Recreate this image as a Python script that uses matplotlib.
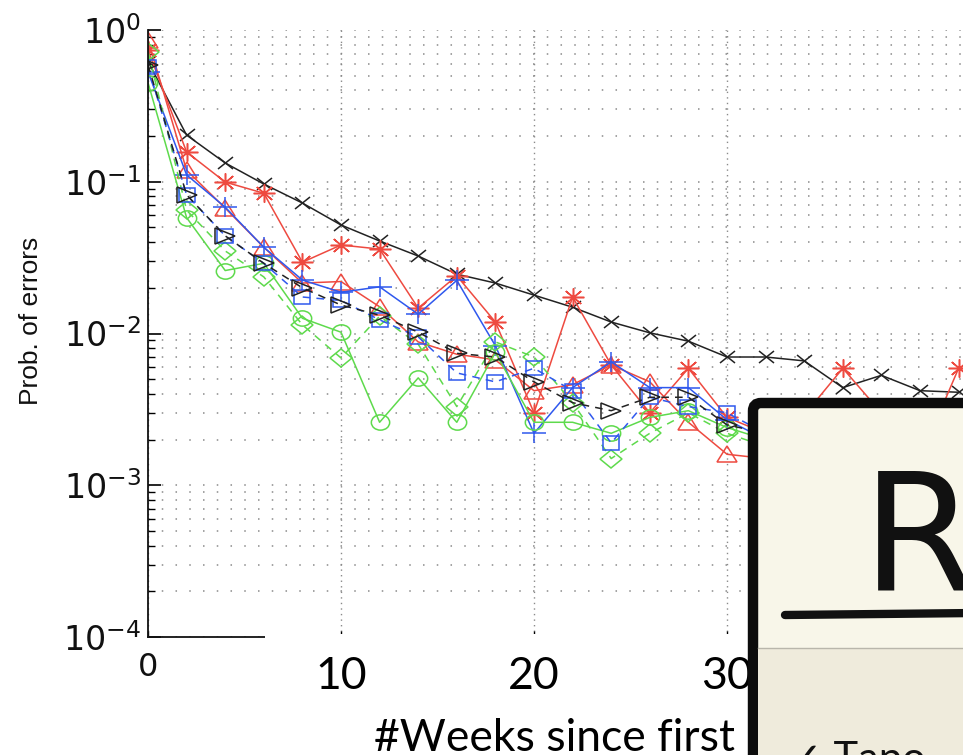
import matplotlib
matplotlib.use("Agg")
import matplotlib.pyplot as plt
from matplotlib.markers import MarkerStyle
from matplotlib.transforms import Affine2D, IdentityTransform
from matplotlib.patches import Rectangle, FancyBboxPatch
from matplotlib.lines import Line2D

plt.rcParams['mathtext.default'] = 'regular'

# ---------------- data ----------------
weeks_long = [0, 2, 4, 6, 8, 10, 12, 14, 16, 18, 20, 22, 24, 26, 28, 30, 32, 34, 36, 38, 40, 42]
weeks_short = [0, 2, 4, 6, 8, 10, 12, 14, 16, 18, 20, 22, 24, 26, 28, 30, 32]

black_x = [0.62, 0.203, 0.133, 0.0966, 0.0724, 0.0519, 0.0407, 0.0324, 0.0246, 0.0215, 0.0179,
           0.0149, 0.0119, 0.0101, 0.0089, 0.0070, 0.0070, 0.0066, 0.0044, 0.0053, 0.0042, 0.0041]
red_star = [0.74, 0.157, 0.0995, 0.084, 0.0295, 0.0383, 0.036, 0.0147, 0.0240, 0.0119, 0.0030,
            0.0174, 0.0062, 0.0030, 0.0059, 0.0028, 0.0022, 0.0029, 0.0059, 0.0030, 0.0015, 0.0059]
red_tri = [0.86, 0.119, 0.067, 0.037, 0.0215, 0.0220, 0.0150, 0.0088, 0.0073, 0.0067, 0.0042,
           0.0046, 0.0062, 0.0048, 0.0026, 0.0016, 0.0015]
blue_plus = [0.53, 0.111, 0.068, 0.037, 0.0225, 0.0187, 0.0203, 0.0134, 0.0224, 0.0083, 0.0022,
             0.0044, 0.0065, 0.0044, 0.0044, 0.0027, 0.0020]
green_circ = [0.45, 0.058, 0.026, 0.029, 0.0126, 0.0102, 0.0026, 0.0051, 0.0026, 0.0075, 0.0026,
              0.0026, 0.0022, 0.0028, 0.0031, 0.0024, 0.0020]
blue_sq = [0.57, 0.082, 0.044, 0.029, 0.0174, 0.0165, 0.0123, 0.0095, 0.0055, 0.0048, 0.0059,
           0.0042, 0.0019, 0.0038, 0.0033, 0.0030, 0.0022]
black_tri = [0.59, 0.082, 0.044, 0.029, 0.0200, 0.0154, 0.0132, 0.0102, 0.0074, 0.0070, 0.0048,
             0.0035, 0.0031, 0.0038, 0.0038, 0.0025, 0.0022]
green_dia = [0.72, 0.065, 0.035, 0.0236, 0.0114, 0.0069, 0.0130, 0.0085, 0.0033, 0.0088, 0.0070,
             0.0035, 0.0015, 0.0022, 0.0030, 0.0022, 0.0018]

x_ticks = [0, 10, 20, 30]
x_tick_labels = ['0', '10', '20', '30']
y_label = 'Prob. of errors'
x_label = '#Weeks since first'
box_title = 'R'
box_bullet = '\u2713 Tapo'

# ---------------- figure ----------------
W, H = 963, 755
fig = plt.figure(figsize=(W / 100, H / 100), dpi=100)
fig.patch.set_facecolor('white')

def fx(px):
    return px / W

def fy(py):
    return 1 - py / H

left, right, top, bottom = 148, 963, 30, 637
ax = fig.add_axes([fx(left), fy(bottom), fx(right - left), fy(top) - fy(bottom)])
ax.set_yscale('log')
ax.set_ylim(1e-4, 1)
ax.set_xlim(0, (right - left) / 19.3)

RED = '#EE4A40'
BLUE = '#2F58EE'
GREEN = '#5EDA4C'
BLACK = '#222222'

stretch = Affine2D().scale(1.2, 1.0)

def mk(m):
    return MarkerStyle(m, fillstyle='none', transform=stretch)

common = dict(lw=1.1, mew=1.1)
ax.plot(weeks_long, black_x, color=BLACK, ls='-', marker=mk('x'), ms=9, **common)
ax.plot(weeks_long, red_star, color=RED, ls='-', marker=mk((8, 2, 0)), ms=13, **common)
ax.plot(weeks_short, red_tri, color=RED, ls='-', marker=mk('^'), ms=12, **common)
ax.plot(weeks_short, blue_plus, color=BLUE, ls='-', marker=mk('+'), ms=14, **common)
ax.plot(weeks_short, green_circ, color=GREEN, ls='-', marker=mk('o'), ms=11, **common)
ax.plot(weeks_short, green_dia, color=GREEN, ls=(0, (5, 4)), marker=mk('D'), ms=9, **common)
ax.plot(weeks_short, blue_sq, color=BLUE, ls=(0, (5, 4)), marker=mk('s'), ms=10, **common)
ax.plot(weeks_short, black_tri, color=BLACK, ls=(0, (5, 4)), marker=mk('>'), ms=12, **common)

for s in ['top', 'right']:
    ax.spines[s].set_visible(False)
for s in ['left', 'bottom']:
    ax.spines[s].set_color('#111111')
    ax.spines[s].set_linewidth(1.3)

ax.set_xticks(x_ticks)
ax.set_xticklabels(['' for _ in x_tick_labels])
ax.tick_params(axis='y', which='major', direction='in', length=9, width=1.2, pad=5,
               labelsize=24, labelfontfamily='DejaVu Sans', labelcolor='#111111')
ax.tick_params(axis='y', which='minor', direction='in', length=5, width=1.0)
ax.tick_params(axis='x', which='major', direction='in', length=4, width=1.0)

ax.grid(True, axis='y', which='both', color='#8a8a8a', lw=1.1, ls=(0, (1, 8)))
ax.grid(True, axis='x', which='major', color='#8a8a8a', lw=1.0, ls=(0, (1, 3)))

# original small "0" tick label
ax.text(x_ticks[0], -0.024, x_tick_labels[0], transform=ax.get_xaxis_transform(),
        ha='center', va='top', fontsize=23, family='DejaVu Sans', color='#111111', clip_on=False)

fig.text(fx(31), fy(321), y_label, rotation=90, ha='center', va='center',
         fontsize=19, family='Liberation Sans', color='#111111')

# slide overlay: white cover over original x labels
ax.add_patch(Rectangle((265, 0), 748 - 265, H - 634, transform=IdentityTransform(),
                       facecolor='white', edgecolor='none', zorder=10, clip_on=False))

# slide tick labels
for xv, lab in zip(x_ticks[1:], x_tick_labels[1:]):
    ax.text(xv, -0.031, lab, transform=ax.get_xaxis_transform(), ha='center', va='top',
            fontsize=32, family='Lato', color='black', zorder=11, clip_on=False)

ax.text(fx(374), fy(751), x_label, transform=fig.transFigure, ha='left', va='baseline',
        fontsize=32, family='Lato', color='black', zorder=11, clip_on=False)

# slide overlay box
ax.add_patch(FancyBboxPatch((753, -40), 400, H - 403 + 40, transform=IdentityTransform(),
                            boxstyle='round,pad=0,rounding_size=8',
                            facecolor='#F8F6E9', edgecolor='#0c0c0c', linewidth=7.5,
                            zorder=20, clip_on=False))
ax.add_patch(Rectangle((758, -10), 300, H - 648 + 10, transform=IdentityTransform(),
                       facecolor='#EFEBDC', edgecolor='none', zorder=21, clip_on=False))
ax.add_artist(Line2D([758, 970], [H - 648, H - 648], transform=IdentityTransform(),
                     color='#b9b6ab', lw=1.0, zorder=22, clip_on=False))
ax.add_artist(Line2D([785, 975], [H - 615, H - 613], transform=IdentityTransform(),
                     color='#111111', lw=6, solid_capstyle='round', zorder=22, clip_on=False))
ax.text(fx(862), fy(590), box_title, transform=fig.transFigure, ha='left', va='baseline',
        fontsize=118, family='DejaVu Sans', color='#111111', zorder=22, clip_on=False)
ax.text(fx(788), fy(772), box_bullet, transform=fig.transFigure, ha='left', va='baseline',
        fontsize=30, family=['Lato', 'DejaVu Sans'], color='#111111', zorder=22, clip_on=False)

fig.savefig('out.png', dpi=100)
